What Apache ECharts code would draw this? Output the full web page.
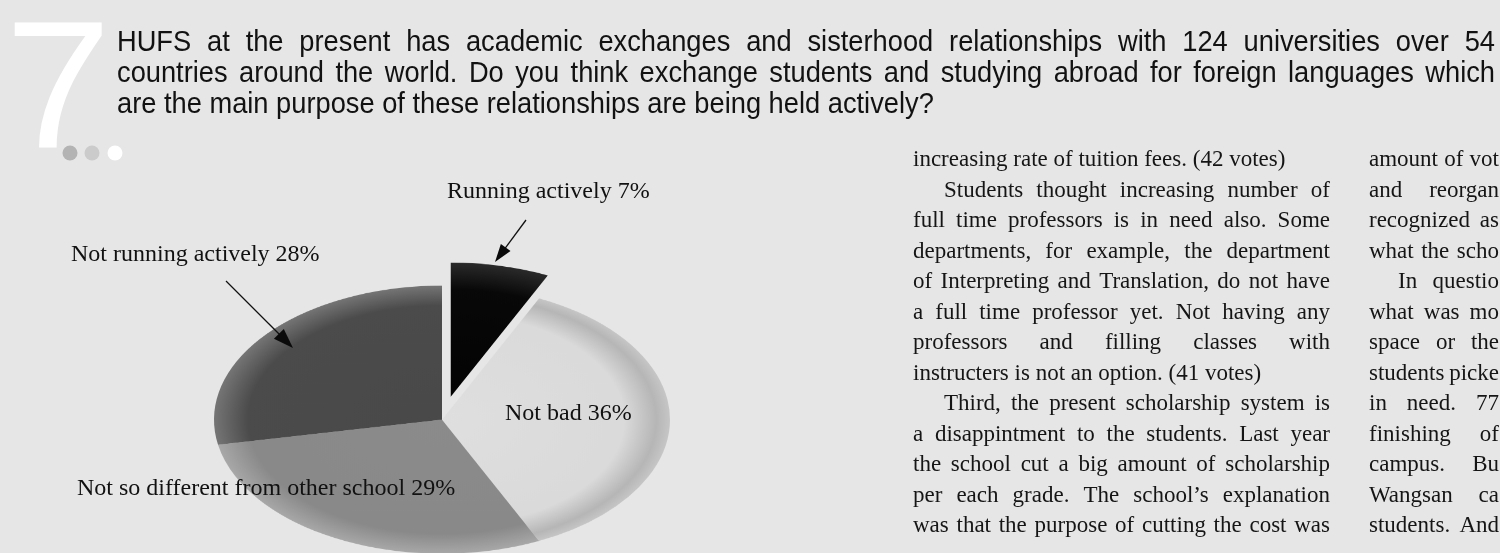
<!DOCTYPE html>
<html><head><meta charset="utf-8">
<script src="https://cdn.jsdelivr.net/npm/echarts@6/dist/echarts.min.js"></script>
<style>
html,body{margin:0;padding:0;width:1500px;height:553px;overflow:hidden;background:#e6e6e6;}
#pie{position:absolute;left:162px;top:255.4px;width:560px;height:560px;transform:scaleY(0.588);transform-origin:0 0;}
#main{position:absolute;left:0;top:0;width:1500px;height:553px;}
</style></head><body>
<div id="pie"></div><div id="main"></div>
<script>
// ---------- data ----------
const categories = ['Running actively', 'Not bad', 'Not so different from other school', 'Not running actively'];
const percentages = [7, 36, 29, 28];
const explodedCategory = 'Running actively';
const questionNumber = '7';
const titleLines = [
  'HUFS at the present has academic exchanges and sisterhood relationships with 124 universities over 54',
  'countries around the world. Do you think exchange students and studying abroad for foreign languages which',
  'are the main purpose of these relationships are being held actively?'
];
const column1Lines = [
  'increasing rate of tuition fees. (42 votes)',
  'Students thought increasing number of',
  'full time professors is in need also. Some',
  'departments, for example, the department',
  'of Interpreting and Translation, do not have',
  'a full time professor yet. Not having any',
  'professors and filling classes with',
  'instructers is not an option. (41 votes)',
  'Third, the present scholarship system is',
  'a disappintment to the students. Last year',
  'the school cut a big amount of scholarship',
  'per each grade. The school\u2019s explanation',
  'was that the purpose of cutting the cost was'
];
const column2Lines = [
  'amount of vot', 'and reorgan', 'recognized as', 'what the scho', 'In questio', 'what was mo',
  'space or the', 'students picke', 'in need. 77', 'finishing of', 'campus. Bu', 'Wangsan ca', 'students. And'
];

// ---------- styles / layout ----------
const sliceStops = [
  [[0, '#030303'], [0.8, '#080808'], [1, '#2a2a2a']],
  [[0, '#dfdfdf'], [0.8, '#dadada'], [0.94, '#b6b6b6'], [1, '#c6c6c6']],
  [[0, '#8b8b8b'], [0.85, '#898989'], [1, '#a8a8a8']],
  [[0, '#494949'], [0.85, '#4b4b4b'], [1, '#757575']]
];
const PIE_CX = 280, PIE_CY = 280, PIE_R = 228;
const labelPos = [[447, 200], [505, 422], [77, 497], [71, 263]];
const BASE_K = 0.33;
const SANS = 'Liberation Sans', SERIF = 'Liberation Serif';

// ---------- pie ----------
function radial(stops) {
  return new echarts.graphic.RadialGradient(PIE_CX, PIE_CY, PIE_R,
    stops.map(s => ({ offset: s[0], color: s[1] })), true);
}
const pieChart = echarts.init(document.getElementById('pie'), null, { renderer: 'canvas' });
pieChart.setOption({
  backgroundColor: 'transparent',
  animation: false,
  series: [{
    type: 'pie',
    center: [PIE_CX, PIE_CY],
    radius: PIE_R,
    startAngle: 90,
    clockwise: true,
    selectedMode: 'single',
    selectedOffset: 40,
    silent: true,
    label: { show: false },
    labelLine: { show: false },
    emphasis: { disabled: true },
    data: categories.map((c, i) => ({
      name: c, value: percentages[i], selected: c === explodedCategory,
      itemStyle: { color: radial(sliceStops[i]) }
    }))
  }]
});

// ---------- overlay text ----------
const mctx = document.createElement('canvas').getContext('2d');
const overlay = [];
function addText(str, x, baseline, size, family, fill, sx) {
  overlay.push({
    type: 'text', x: x, y: baseline - BASE_K * size, scaleX: sx || 1, silent: true,
    style: { text: str, fontSize: size, fontFamily: family, fill: fill, align: 'left', verticalAlign: 'middle' }
  });
}
function placeLine(line, x0, x1, baseline, size, family, sx, justify, fill) {
  mctx.font = size + 'px ' + family;
  const words = line.split(' ');
  const widths = words.map(w => mctx.measureText(w).width * sx);
  const sum = widths.reduce((a, b) => a + b, 0);
  let gap = mctx.measureText(' ').width * sx;
  if (justify && words.length > 1) gap = (x1 - x0 - sum) / (words.length - 1);
  let x = x0;
  words.forEach((w, i) => { addText(w, x, baseline, size, family, fill, sx); x += widths[i] + gap; });
}
function arrow(x1, y1, x2, y2, len, hw) {
  const dx = x2 - x1, dy = y2 - y1, L = Math.hypot(dx, dy), ux = dx / L, uy = dy / L;
  const bx = x2 - ux * len, by = y2 - uy * len;
  overlay.push({ type: 'line', silent: true, shape: { x1: x1, y1: y1, x2: bx + ux * 2, y2: by + uy * 2 }, style: { stroke: '#111', lineWidth: 1.3 } });
  overlay.push({ type: 'polygon', silent: true, shape: { points: [[x2, y2], [bx - uy * hw, by + ux * hw], [bx + uy * hw, by - ux * hw]] }, style: { fill: '#0a0a0a' } });
}

// big number and dots
addText(questionNumber, 5, 158, 182, SANS, '#ffffff', 1.05);
[['#b3b3b3', 70], ['#cbcbcb', 92], ['#ffffff', 115]].forEach(d => {
  overlay.push({ type: 'circle', silent: true, shape: { cx: d[1], cy: 153, r: 7.5 }, style: { fill: d[0] } });
});

// title
const titleBase = [53, 84, 115];
titleLines.forEach((l, i) => placeLine(l, 117, 1495, titleBase[i], 29, SANS, 0.94, i < titleLines.length - 1, '#121212'));

// pie labels
categories.forEach((c, i) => {
  placeLine(c + ' ' + percentages[i] + '%', labelPos[i][0], 0, labelPos[i][1], 24, SERIF, 1, false, '#111');
});
arrow(526, 220, 495, 262, 18, 6);
arrow(226, 281, 293, 348, 20, 7);

// body columns
const col1Indent = [1, 8], col1Ragged = [0, 7];
column1Lines.forEach((l, i) => {
  const x0 = col1Indent.includes(i) ? 944 : 913;
  placeLine(l, x0, 1330, 168 + 30.5 * i, 23, SERIF, 1, !col1Ragged.includes(i), '#151515');
});
column2Lines.forEach((l, i) => {
  const x0 = i === 4 ? 1398 : 1369;
  placeLine(l, x0, 1499, 168 + 30.5 * i, 23, SERIF, 1, true, '#151515');
});

const chart = echarts.init(document.getElementById('main'), null, { renderer: 'canvas' });
chart.setOption({ backgroundColor: 'transparent', animation: false, graphic: { elements: overlay } });
</script>
</body></html>
